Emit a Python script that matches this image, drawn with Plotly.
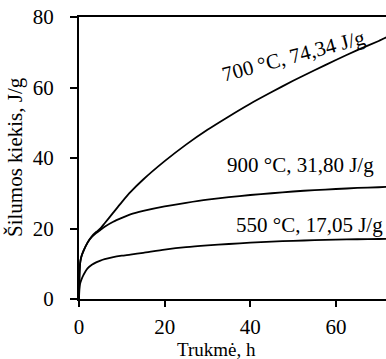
import plotly.graph_objects as go

# Time (h) and heat amount (J/g)
t_700 = [0, 0.1, 0.25, 0.5, 1, 2, 3, 4, 5, 6, 8, 10, 12, 15, 20, 25, 30, 35, 40, 45, 50, 55, 60, 65, 70, 72]
q_700 = [0, 6.0, 10.0, 11.8, 13.5, 16.0, 17.8, 19.0, 20.0, 21.5, 24.5, 27.5, 30.3, 33.9, 39.1, 43.8, 48.0, 51.8, 55.4, 58.7, 61.9, 64.9, 67.8, 70.6, 73.2, 74.34]

t_900 = [0, 0.1, 0.25, 0.5, 1, 2, 3, 4, 5, 6, 8, 10, 12, 15, 20, 25, 30, 35, 40, 45, 50, 55, 60, 65, 70, 72]
q_900 = [0, 7.0, 10.0, 11.8, 13.5, 16.0, 17.6, 18.7, 19.6, 20.5, 21.9, 23.0, 24.0, 25.0, 26.3, 27.3, 28.2, 28.9, 29.5, 30.0, 30.5, 30.9, 31.2, 31.5, 31.7, 31.8]

t_550 = [0, 0.1, 0.25, 0.5, 1, 2, 3, 4, 5, 6, 8, 10, 12, 15, 20, 25, 30, 35, 40, 45, 50, 55, 60, 65, 70, 72]
q_550 = [0, 3.0, 4.3, 5.3, 6.7, 8.7, 9.7, 10.4, 10.9, 11.3, 11.9, 12.3, 12.6, 13.1, 14.0, 14.7, 15.2, 15.6, 16.0, 16.3, 16.5, 16.7, 16.85, 16.95, 17.02, 17.05]

labels = ["700 °C, 74,34 J/g", "900 °C, 31,80 J/g", "550 °C, 17,05 J/g"]
x_ticks = [0, 20, 40, 60]
y_ticks = [0, 20, 40, 60, 80]

FONT = "Liberation Serif"

fig = go.Figure()
for t, q in [(t_700, q_700), (t_900, q_900), (t_550, q_550)]:
    fig.add_trace(go.Scatter(x=t, y=q, mode="lines", line=dict(color="black", width=1.8, shape="spline", smoothing=0.6),
                             showlegend=False, hoverinfo="skip"))

fig.add_annotation(x=50, y=69.0, xref="x", yref="y", text=labels[0], showarrow=False, textangle=-15,
                   font=dict(family=FONT, size=21, color="black"))
fig.add_annotation(x=51.8, y=38.0, xref="x", yref="y", text=labels[1], showarrow=False,
                   font=dict(family=FONT, size=21, color="black"))
fig.add_annotation(x=53.9, y=21.0, xref="x", yref="y", text=labels[2], showarrow=False,
                   font=dict(family=FONT, size=21, color="black"))

fig.add_annotation(x=-0.2085, y=0.5035, xref="paper", yref="paper", text="Šilumos kiekis, J/g", showarrow=False,
                   textangle=-90, xanchor="center", yanchor="middle", font=dict(family=FONT, size=21, color="black"))
fig.add_annotation(x=0.4495, y=-0.178, xref="paper", yref="paper", text="Trukmė, h", showarrow=False,
                   xanchor="center", yanchor="middle", font=dict(family=FONT, size=19, color="black"))

fig.update_layout(
    width=386, height=359,
    margin=dict(l=79, r=0, t=17, b=60),
    plot_bgcolor="white", paper_bgcolor="white",
    font=dict(family=FONT, size=21, color="black"),
    xaxis=dict(range=[0, 71.7], tickvals=x_ticks, showgrid=False, zeroline=False,
               showline=True, linecolor="black", linewidth=2, mirror=True,
               ticks="outside", ticklen=6, tickwidth=2, tickcolor="black", ticklabelstandoff=2,
               tickfont=dict(family=FONT, size=21, color="black")),
    yaxis=dict(range=[0, 80], tickvals=y_ticks, showgrid=False, zeroline=False,
               showline=True, linecolor="black", linewidth=2,
               ticks="outside", ticklen=7, tickwidth=2, tickcolor="black", ticklabelstandoff=12,
               tickfont=dict(family=FONT, size=21, color="black")),
)

fig.write_html("out.html")
